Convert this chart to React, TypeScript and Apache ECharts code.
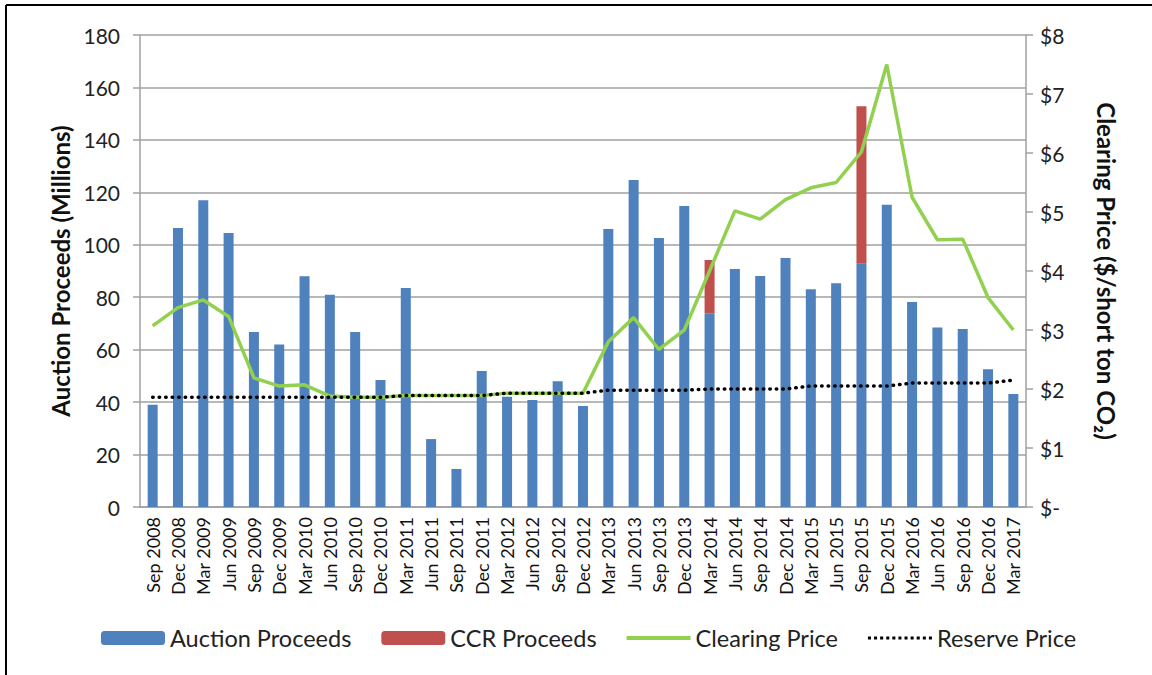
import React, { useEffect, useRef } from "react";
import * as echarts from "echarts";

const categories = [
  "Sep 2008", "Dec 2008", "Mar 2009", "Jun 2009", "Sep 2009", "Dec 2009",
  "Mar 2010", "Jun 2010", "Sep 2010", "Dec 2010", "Mar 2011", "Jun 2011",
  "Sep 2011", "Dec 2011", "Mar 2012", "Jun 2012", "Sep 2012", "Dec 2012",
  "Mar 2013", "Jun 2013", "Sep 2013", "Dec 2013", "Mar 2014", "Jun 2014",
  "Sep 2014", "Dec 2014", "Mar 2015", "Jun 2015", "Sep 2015", "Dec 2015",
  "Mar 2016", "Jun 2016", "Sep 2016", "Dec 2016", "Mar 2017",
];

const auctionProceeds = [
  39, 106.4, 117, 104.5, 66.7, 62, 88, 80.9, 66.7, 48.4, 83.5, 25.9,
  14.5, 51.9, 42, 40.8, 48, 38.5, 106, 124.7, 102.6, 114.8, 73.9, 90.8,
  88.1, 95, 83, 85.3, 92.8, 115.3, 78.2, 68.5, 67.9, 52.5, 43.1,
];

const ccrProceeds = [
  null, null, null, null, null, null, null, null, null, null, null, null,
  null, null, null, null, null, null, null, null, null, null, 20.3, null,
  null, null, null, null, 60, null, null, null, null, null, null,
];

const clearingPrice = [
  3.07, 3.38, 3.51, 3.23, 2.19, 2.05, 2.07, 1.88, 1.86, 1.86, 1.89, 1.89,
  1.89, 1.89, 1.93, 1.93, 1.93, 1.93, 2.8, 3.21, 2.67, 3.0, 4.0, 5.02,
  4.88, 5.21, 5.41, 5.5, 6.02, 7.5, 5.25, 4.53, 4.54, 3.55, 3.0,
];

const reservePrice = [
  1.86, 1.86, 1.86, 1.86, 1.86, 1.86, 1.86, 1.86, 1.86, 1.86, 1.89, 1.89,
  1.89, 1.89, 1.93, 1.93, 1.93, 1.93, 1.98, 1.98, 1.98, 1.98, 2.0, 2.0,
  2.0, 2.0, 2.05, 2.05, 2.05, 2.05, 2.1, 2.1, 2.1, 2.1, 2.15,
];

const FONT = "Lato, 'Noto Sans', sans-serif";
const AXIS_GRAY = "#a0a0a0";

// legend icon shapes
const LINE_ICON = "path://M0,0h64v4h-64z";
const DOTS_ICON =
  "path://" +
  Array.from({ length: 11 }, (_, i) => `M${i * 6},0h3v3h-3z`).join(" ");

export default function App() {
  const ref = useRef<HTMLDivElement>(null);

  useEffect(() => {
    if (!ref.current) return;
    const chart = echarts.init(ref.current, null, { renderer: "svg" });
    chart.setOption({
      animation: false,
      backgroundColor: "#ffffff",
      textStyle: { fontFamily: FONT },
      grid: { left: 140, right: 126, top: 35, bottom: 168 },
      graphic: [
        { type: "line", shape: { x1: 6, y1: 5, x2: 1152, y2: 5 }, style: { stroke: "#000", lineWidth: 2 } },
        { type: "line", shape: { x1: 6, y1: 5, x2: 6, y2: 675 }, style: { stroke: "#000", lineWidth: 2 } },
      ],
      legend: {
        left: 96,
        top: 621,
        itemWidth: 64,
        itemHeight: 14,
        itemGap: 30,
        textStyle: { fontFamily: FONT, fontSize: 23.5, color: "#222" },
        data: [
          { name: "Auction Proceeds" },
          { name: "CCR Proceeds" },
          { name: "Clearing Price", icon: LINE_ICON, itemStyle: { color: "#92D050" } },
          { name: "Reserve Price", icon: DOTS_ICON, itemStyle: { color: "#000" } },
        ],
      },
      xAxis: {
        type: "category",
        data: categories,
        boundaryGap: true,
        axisLine: { lineStyle: { color: AXIS_GRAY, width: 1.5 } },
        axisTick: { alignWithLabel: false, length: 7, lineStyle: { color: AXIS_GRAY, width: 1.5 } },
        axisLabel: {
          rotate: 90,
          interval: 0,
          margin: 10,
          fontFamily: FONT,
          fontSize: 18,
          color: "#111",
        },
      },
      yAxis: [
        {
          type: "value",
          min: 0,
          max: 180,
          interval: 20,
          position: "left",
          name: "Auction Proceeds (Millions)",
          nameLocation: "middle",
          nameGap: 68,
          nameRotate: 90,
          nameTextStyle: { fontFamily: FONT, fontSize: 24, fontWeight: "bold", color: "#111" },
          axisLine: { show: true, lineStyle: { color: AXIS_GRAY, width: 1.5 } },
          axisTick: { show: true, length: 7, lineStyle: { color: AXIS_GRAY, width: 1.5 } },
          axisLabel: { margin: 20, fontFamily: FONT, fontSize: 21, color: "#222" },
          splitLine: { show: true, lineStyle: { color: AXIS_GRAY, width: 1.5 } },
        },
        {
          type: "value",
          min: 0,
          max: 8,
          interval: 1,
          position: "right",
          name: "Clearing Price ($/short ton CO₂)",
          nameLocation: "middle",
          nameGap: 68,
          nameRotate: -90,
          nameTextStyle: { fontFamily: FONT, fontSize: 24, fontWeight: "bold", color: "#111" },
          axisLine: { show: true, lineStyle: { color: AXIS_GRAY, width: 1.5 } },
          axisTick: { show: true, length: 7, lineStyle: { color: AXIS_GRAY, width: 1.5 } },
          axisLabel: {
            margin: 14,
            fontFamily: FONT,
            fontSize: 21,
            color: "#222",
            formatter: (v: number) => (v === 0 ? "$-" : "$" + v),
          },
          splitLine: { show: false },
        },
      ],
      series: [
        {
          name: "Auction Proceeds",
          type: "bar",
          stack: "proceeds",
          barWidth: 10,
          data: auctionProceeds,
          itemStyle: { color: "#4F81BD" },
        },
        {
          name: "CCR Proceeds",
          type: "bar",
          stack: "proceeds",
          barWidth: 10,
          data: ccrProceeds,
          itemStyle: { color: "#C0504D" },
        },
        {
          name: "Clearing Price",
          type: "line",
          yAxisIndex: 1,
          data: clearingPrice,
          symbol: "none",
          lineStyle: { color: "#92D050", width: 3.5 },
          itemStyle: { color: "#92D050" },
          z: 3,
        },
        {
          name: "Reserve Price",
          type: "line",
          yAxisIndex: 1,
          data: reservePrice,
          symbol: "none",
          lineStyle: { color: "#000", width: 3.5, type: [0.5, 6], cap: "round" },
          itemStyle: { color: "#000" },
          z: 4,
        },
      ],
    });
    return () => chart.dispose();
  }, []);

  return (
    <div
      ref={ref}
      style={{ position: "fixed", left: 0, top: 0, width: 1152, height: 675 }}
    />
  );
}
